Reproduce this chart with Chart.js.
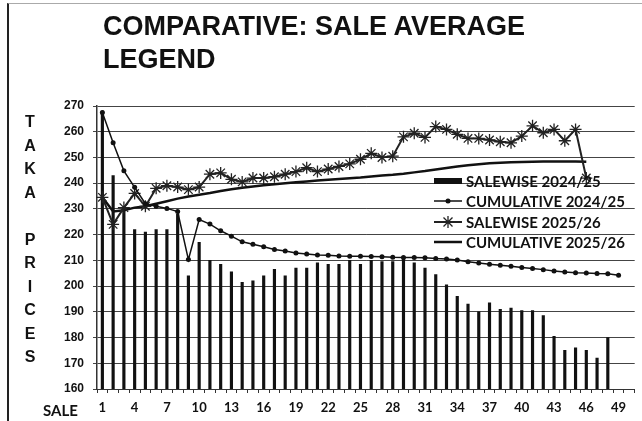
<!DOCTYPE html>
<html>
<head>
<meta charset="utf-8">
<script src="https://cdn.jsdelivr.net/npm/chart.js@4.4.1/dist/chart.umd.min.js"></script>
<style>
  html, body { margin: 0; padding: 0; background: #fff; }
  #wrap { position: relative; width: 642px; height: 421px; overflow: hidden; color: #111; }
  #frame { position: absolute; left: 7px; top: 3px; right: 0; bottom: -2px; border-left: 2px solid #222; border-top: 1px solid #aaa; }
  #title { position: absolute; left: 103px; top: 10px; font: bold 27px/33px "Liberation Sans", Arial, sans-serif; white-space: nowrap; }
  #ylabel { position: absolute; left: 21px; top: 110px; width: 18px; text-align: center; font: bold 16px/23.5px "Liberation Sans", Arial, sans-serif; }
  #xlabel { position: absolute; left: 43px; top: 401px; font: bold 15px/18px Lato, sans-serif; }
  #legend { position: absolute; left: 433px; top: 171px; font: bold 15px/18px Lato, sans-serif; }
  #legend .row { height: 20.3px; display: flex; align-items: center; white-space: nowrap; }
  #legend svg { width: 30px; height: 12px; margin-right: 3px; flex: none; }
  canvas { position: absolute; left: 0; top: 0; }
</style>
</head>
<body>
<div id="wrap">
  <div id="frame"></div>
  <canvas id="saleChart" width="642" height="421"></canvas>
  <div id="title">COMPARATIVE: SALE AVERAGE<br>LEGEND</div>
  <div id="ylabel">T<br>A<br>K<br>A<br>&nbsp;<br>P<br>R<br>I<br>C<br>E<br>S</div>
  <div id="xlabel">SALE</div>
  <div id="legend">
    <div class="row"><svg viewBox="0 0 30 12"><rect x="1" y="3" width="28" height="6" fill="#111"/></svg>SALEWISE 2024/25</div>
    <div class="row"><svg viewBox="0 0 30 12"><line x1="1" y1="6" x2="29" y2="6" stroke="#111" stroke-width="1.5"/><circle cx="15" cy="6" r="2.5" fill="#111"/></svg>CUMULATIVE 2024/25</div>
    <div class="row"><svg viewBox="0 0 30 12"><line x1="1" y1="6" x2="29" y2="6" stroke="#222" stroke-width="2"/><path d="M15 0V12M9 6H21M10.5 1.5L19.5 10.5M19.5 1.5L10.5 10.5" stroke="#222" stroke-width="1.3"/></svg>SALEWISE 2025/26</div>
    <div class="row"><svg viewBox="0 0 30 12"><line x1="1" y1="6" x2="29" y2="6" stroke="#111" stroke-width="2.5"/></svg>CUMULATIVE 2025/26</div>
  </div>
</div>
<script>
const saleLabels = ['1','2','3','4','5','6','7','8','9','10','11','12','13','14','15','16','17','18','19','20',
  '21','22','23','24','25','26','27','28','29','30','31','32','33','34','35','36','37','38','39','40',
  '41','42','43','44','45','46','47','48','49','50'];

// bars
const salewise2425 = [268, 243, 230, 222, 221, 222, 222, 228, 204, 217,
  210, 208.5, 205.5, 201.5, 202, 204, 206.5, 204, 207, 207,
  209, 208.5, 208.5, 210, 208.5, 210, 209.5, 209.5, 210.5, 209,
  207, 204.5, 200.5, 196, 193, 190, 193.5, 191, 191.5, 190.5,
  190.5, 188.5, 180.5, 175, 176, 175, 172, 180, null, null];

const cumulative2425 = [267.5, 255.7, 244.8, 238.4, 232, 231, 230.2, 229, 210.3, 225.9,
  224.1, 221.5, 219.4, 217.2, 216.3, 215.3, 214.2, 213.6, 212.9, 212.5,
  212.1, 212, 211.7, 211.6, 211.6, 211.5, 211.4, 211.2, 211.1, 211.1,
  211, 210.7, 210.5, 210.1, 209.5, 209, 208.5, 208.1, 207.7, 207.2,
  206.8, 206.4, 205.9, 205.5, 205.2, 205.1, 204.9, 204.8, 204.2, null];

const salewise2526 = [234.5, 224, 230.5, 236, 231, 238, 239, 238.5, 237.5, 238.5,
  243.5, 244, 241.5, 240.5, 242, 242, 242.5, 243.5, 244.5, 246,
  244.5, 245.5, 246.5, 247.5, 249.3, 251.6, 250, 250.5, 258, 259.4,
  257.8, 262, 260.9, 259, 257.4, 257.4, 256.8, 256.1, 255.7, 258.3,
  262.3, 259.6, 260.9, 256.5, 260.9, 242, null, null, null, null];

const cumulative2526 = [234.5, 229, 229.5, 230.5, 231, 232, 233, 234, 234.8, 235.5,
  236.2, 237, 237.6, 238.2, 238.7, 239.2, 239.6, 240, 240.4, 240.7,
  241, 241.3, 241.6, 241.9, 242.2, 242.6, 243, 243.3, 243.7, 244.2,
  244.7, 245.3, 245.9, 246.5, 247, 247.4, 247.7, 247.9, 248.1, 248.2,
  248.3, 248.4, 248.4, 248.4, 248.4, 248.3, null, null, null, null];

const yMin = 160;
const yMax = 270;

const ctx = document.getElementById('saleChart');

new Chart(ctx, {
    type: 'bar',
    data: {
        labels: saleLabels,
        datasets: [
            {
                type: 'line',
                label: 'CUMULATIVE 2024/25',
                data: cumulative2425,
                borderColor: '#111',
                borderWidth: 1.5,
                pointRadius: 2.5,
                pointBackgroundColor: '#111',
                pointBorderWidth: 0,
                tension: 0,
                order: 1
            },
            {
                type: 'line',
                label: 'SALEWISE 2025/26',
                data: salewise2526,
                borderColor: '#222',
                borderWidth: 2,
                pointStyle: 'star',
                pointRadius: 6,
                pointBorderColor: '#222',
                pointBorderWidth: 1.3,
                tension: 0,
                order: 2
            },
            {
                type: 'line',
                label: 'CUMULATIVE 2025/26',
                data: cumulative2526,
                borderColor: '#111',
                borderWidth: 2.5,
                pointRadius: 0,
                tension: 0,
                order: 3
            },
            {
                type: 'bar',
                label: 'SALEWISE 2024/25',
                data: salewise2425,
                backgroundColor: '#111',
                barThickness: 2.5,
                order: 4
            }
        ]
    },
    options: {
        responsive: false,
        animation: false,
        layout: { padding: { top: 106, right: 2, bottom: 0, left: 0 } },
        plugins: {
            legend: { display: false },
            title: { display: false },
            tooltip: { enabled: false }
        },
        scales: {
            x: {
                offset: true,
                grid: { drawOnChartArea: false, tickLength: 4, color: '#333', offset: true },
                border: { color: '#333' },
                ticks: {
                    autoSkip: false,
                    maxRotation: 0,
                    padding: 7,
                    color: '#111',
                    font: { family: 'Lato', weight: 'bold', size: 13 },
                    callback: (v, i) => (i % 3 === 0 ? saleLabels[i] : '')
                },
                afterFit: (s) => { s.height = 32; }
            },
            y: {
                min: yMin,
                max: yMax,
                ticks: {
                    stepSize: 10,
                    padding: 9,
                    color: '#111',
                    font: { family: 'Liberation Sans', weight: 'bold', size: 12 }
                },
                grid: { color: '#444', lineWidth: 1, tickLength: 4 },
                border: { color: '#333', width: 1.5 },
                afterFit: (s) => { s.width = 97; }
            }
        }
    }
});
</script>
</body>
</html>
